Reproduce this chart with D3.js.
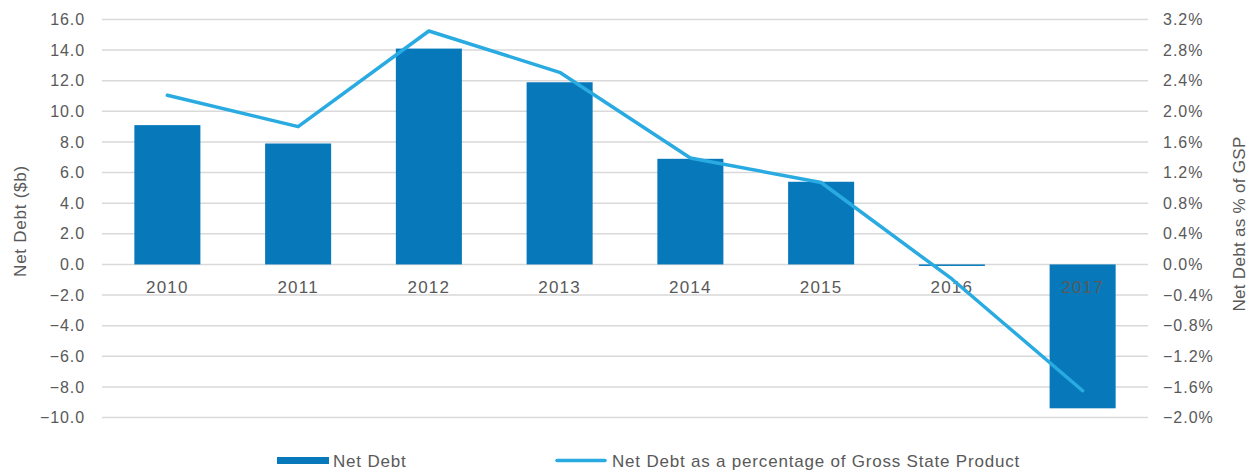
<!DOCTYPE html>
<html>
<head>
<meta charset="utf-8">
<script src="https://cdn.jsdelivr.net/npm/d3@7"></script>
<style>
  html, body { margin: 0; padding: 0; background: #fff; }
  svg text { font-family: "Liberation Sans", Arial, sans-serif; fill: #595959; }
</style>
</head>
<body>
<svg id="chart" width="1251" height="472"></svg>
<script>
// Financial years
const years = ["2010", "2011", "2012", "2013", "2014", "2015", "2016", "2017"];
// Net debt, $ billions
const netDebt = [9.1, 7.9, 14.1, 11.9, 6.9, 5.4, -0.1, -9.4];
// Net debt as a share of Gross State Product, %
const netDebtPctGsp = [2.21, 1.80, 3.05, 2.51, 1.39, 1.07, -0.19, -1.65];
// Axis ticks
const leftTicks = [16, 14, 12, 10, 8, 6, 4, 2, 0, -2, -4, -6, -8, -10];
const rightTicks = [3.2, 2.8, 2.4, 2.0, 1.6, 1.2, 0.8, 0.4, 0.0, -0.4, -0.8, -1.2, -1.6, -2.0];

const barColor = "#0779BA";
const lineColor = "#29ABE2";
const fontFamily = "'Liberation Sans', Arial, sans-serif";

const svg = d3.select("#chart");
const plot = { left: 102, right: 1148, top: 19.5, bottom: 417.5 };

const x = d3.scaleBand().domain(years).range([plot.left, plot.right]).paddingInner(0.495).paddingOuter(0.2475);
const xMid = d => x(d) + x.bandwidth() / 2;
const yL = d3.scaleLinear().domain([-10, 16]).range([plot.bottom, plot.top]);
const yR = d3.scaleLinear().domain([-2.0, 3.2]).range([plot.bottom, plot.top]);

// Gridlines
svg.append("g").selectAll("line").data(leftTicks).join("line")
  .attr("x1", plot.left).attr("x2", plot.right)
  .attr("y1", d => yL(d)).attr("y2", d => yL(d))
  .attr("stroke", "#d9d9d9").attr("stroke-width", 1.5);

// Left axis
const leftAxis = d3.axisLeft(yL).tickValues(leftTicks).tickFormat(d3.format(".1f")).tickSize(0).tickPadding(17);
const gl = svg.append("g").attr("transform", `translate(${plot.left},0)`).call(leftAxis);
gl.select(".domain").remove();
gl.selectAll("text").attr("font-size", 16).attr("letter-spacing", 0.9)
  .attr("fill", "#595959").style("font-family", fontFamily);

// Right axis
const rightAxis = d3.axisRight(yR).tickValues(rightTicks).tickFormat(d => d3.format(".1f")(d) + "%").tickSize(0).tickPadding(15);
const gr = svg.append("g").attr("transform", `translate(${plot.right},0)`).call(rightAxis);
gr.select(".domain").remove();
gr.selectAll("text").attr("font-size", 16).attr("letter-spacing", 1.0)
  .attr("fill", "#595959").style("font-family", fontFamily);

// Bars
svg.append("g").selectAll("rect").data(years).join("rect")
  .attr("x", d => x(d))
  .attr("width", x.bandwidth())
  .attr("y", (d, i) => yL(Math.max(0, netDebt[i])))
  .attr("height", (d, i) => Math.abs(yL(netDebt[i]) - yL(0)))
  .attr("fill", barColor);

// Category labels sit just below the zero line
svg.append("g").selectAll("text").data(years).join("text")
  .attr("x", d => xMid(d))
  .attr("y", yL(0) + 28.5)
  .attr("text-anchor", "middle")
  .attr("font-size", 17)
  .attr("letter-spacing", 1.2)
  .text(d => d);

// Line
const line = d3.line().x((d, i) => xMid(years[i])).y(d => yR(d));
svg.append("path").datum(netDebtPctGsp)
  .attr("d", line)
  .attr("fill", "none")
  .attr("stroke", lineColor)
  .attr("stroke-width", 3.5)
  .attr("stroke-linejoin", "round")
  .attr("stroke-linecap", "round");

// Axis titles
svg.append("text")
  .attr("transform", `translate(25.5,221) rotate(-90)`)
  .attr("text-anchor", "middle")
  .attr("font-size", 17)
  .attr("letter-spacing", 0.75)
  .text("Net Debt ($b)");
svg.append("text")
  .attr("transform", `translate(1245,224) rotate(-90)`)
  .attr("text-anchor", "middle")
  .attr("font-size", 17)
  .attr("letter-spacing", 0.3)
  .text("Net Debt as % of GSP");

// Legend
const legend = svg.append("g");
legend.append("rect").attr("x", 277).attr("y", 457).attr("width", 52).attr("height", 7).attr("fill", barColor);
legend.append("text").attr("x", 333).attr("y", 467).attr("font-size", 17).attr("letter-spacing", 0.8).text("Net Debt");
legend.append("line").attr("x1", 557).attr("x2", 605).attr("y1", 460.5).attr("y2", 460.5)
  .attr("stroke", lineColor).attr("stroke-width", 3.5).attr("stroke-linecap", "round");
legend.append("text").attr("x", 612).attr("y", 467).attr("font-size", 17).attr("letter-spacing", 0.8)
  .text("Net Debt as a percentage of Gross State Product");
</script>
</body>
</html>
